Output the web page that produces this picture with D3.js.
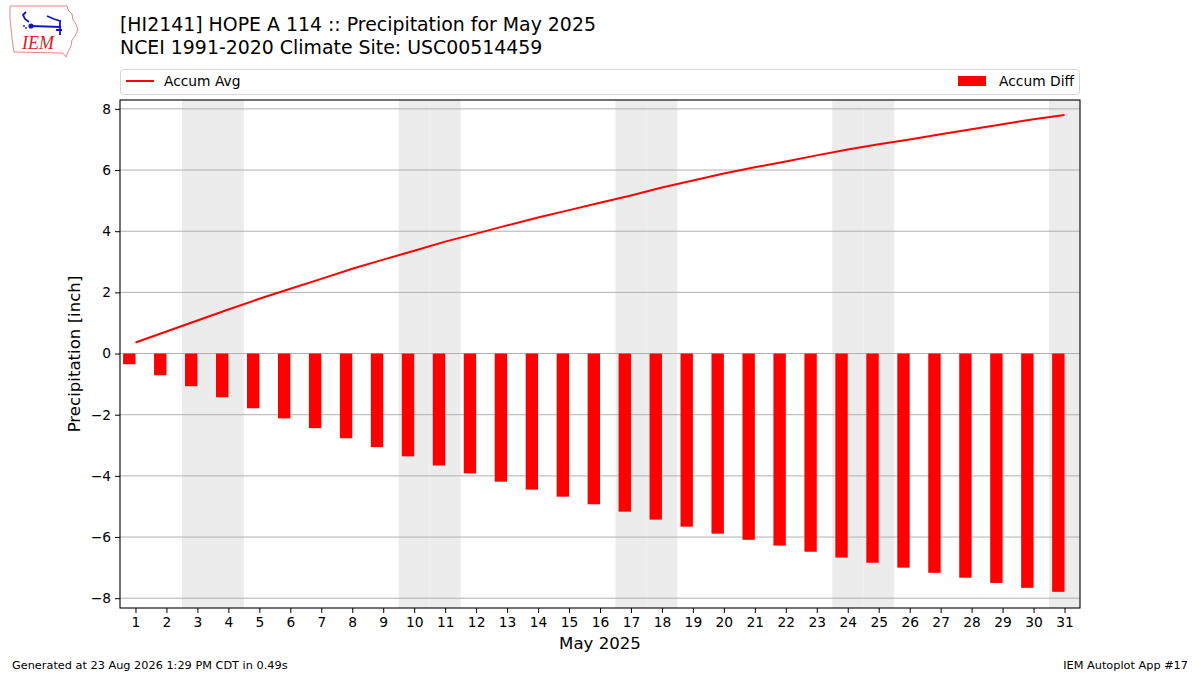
<!DOCTYPE html>
<html>
<head>
<meta charset="utf-8">
<script src="https://cdn.jsdelivr.net/npm/d3@7"></script>
<style>
    body { margin: 0; background: #fff; }
    svg { font-family: 'DejaVu Sans', sans-serif; }
</style>
</head>
<body>
<div id="chart"></div>
<script>
// days of May 2025
const days = d3.range(1, 32);
// accumulated climatology (inch)
const accumAvg = [0.36, 0.72, 1.08, 1.44, 1.79, 2.12, 2.44, 2.77, 3.07, 3.36,
    3.66, 3.92, 4.19, 4.45, 4.69, 4.93, 5.17, 5.43, 5.66, 5.89,
    6.09, 6.28, 6.48, 6.67, 6.84, 7.00, 7.17, 7.33, 7.50, 7.66, 7.80];
// accumulated departure (inch)
const accumDiff = [-0.35, -0.71, -1.07, -1.43, -1.79, -2.12, -2.44, -2.77, -3.06, -3.36,
    -3.66, -3.92, -4.19, -4.45, -4.68, -4.93, -5.17, -5.43, -5.66, -5.89,
    -6.09, -6.28, -6.48, -6.67, -6.84, -7.00, -7.17, -7.33, -7.50, -7.66, -7.79];
// weekend days get a grey band
const weekendDays = [3, 4, 10, 11, 17, 18, 24, 25, 31];
const yTicks = [-8, -6, -4, -2, 0, 2, 4, 6, 8];

const width = 1200, height = 675;
const plot = { left: 120, right: 1080, top: 100, bottom: 608 };

const svg = d3.select('#chart').append('svg')
    .attr('width', width)
    .attr('height', height);

const x = d3.scaleLinear().domain([0.5, 31.5]).range([plot.left, plot.right]);
const y = d3.scaleLinear().domain([-8.32, 8.29]).range([plot.bottom, plot.top]);

// clip to the axes box
svg.append('clipPath').attr('id', 'clip')
    .append('rect')
    .attr('x', plot.left).attr('y', plot.top)
    .attr('width', plot.right - plot.left).attr('height', plot.bottom - plot.top);

const body = svg.append('g').attr('clip-path', 'url(#clip)');

// weekend shading
body.selectAll('rect.weekend')
    .data(weekendDays)
    .enter().append('rect')
        .attr('class', 'weekend')
        .attr('x', d => x(d - 0.5))
        .attr('width', d => x(d + 0.5) - x(d - 0.5))
        .attr('y', plot.top)
        .attr('height', plot.bottom - plot.top)
        .attr('fill', '#ececec');

// horizontal grid
body.selectAll('line.grid')
    .data(yTicks)
    .enter().append('line')
        .attr('class', 'grid')
        .attr('x1', plot.left).attr('x2', plot.right)
        .attr('y1', d => y(d)).attr('y2', d => y(d))
        .attr('stroke', '#b0b0b0')
        .attr('stroke-width', 1);

// bars sit just left of their tick (edge aligned, negative width)
body.selectAll('rect.bar')
    .data(days)
    .enter().append('rect')
        .attr('class', 'bar')
        .attr('x', d => x(d - 0.4))
        .attr('width', d => x(d) - x(d - 0.4))
        .attr('y', (d, i) => y(Math.max(0, accumDiff[i])))
        .attr('height', (d, i) => Math.abs(y(accumDiff[i]) - y(0)))
        .attr('fill', '#ff0000');

const line = d3.line()
    .x(d => x(d))
    .y((d, i) => y(accumAvg[i]));

body.append('path')
    .datum(days)
    .attr('d', line)
    .attr('fill', 'none')
    .attr('stroke', '#ff0000')
    .attr('stroke-width', 2);

// axes
const xAxis = svg.append('g')
    .attr('transform', `translate(0, ${plot.bottom})`)
    .call(d3.axisBottom(x).tickValues(days).tickFormat(d3.format('d')).tickSizeOuter(0).tickSize(5).tickPadding(4));

const yAxis = svg.append('g')
    .attr('transform', `translate(${plot.left}, 0)`)
    .call(d3.axisLeft(y).tickValues(yTicks).tickFormat(d => d < 0 ? '\u2212' + Math.abs(d) : d).tickSizeOuter(0).tickSize(5).tickPadding(4));

[xAxis, yAxis].forEach(a => {
    a.select('.domain').remove();
    a.selectAll('text').attr('font-size', 13.8).attr('fill', '#000').attr('font-family', 'DejaVu Sans');
    a.selectAll('line').attr('stroke', '#000');
});

// frame
svg.append('rect')
    .attr('x', plot.left).attr('y', plot.top)
    .attr('width', plot.right - plot.left).attr('height', plot.bottom - plot.top)
    .attr('fill', 'none').attr('stroke', '#000').attr('stroke-width', 1.1);

svg.append('text')
    .attr('x', (plot.left + plot.right) / 2).attr('y', 649)
    .attr('text-anchor', 'middle').attr('font-size', 16.6)
    .text('May 2025');

svg.append('text')
    .attr('transform', `translate(80, ${(plot.top + plot.bottom) / 2}) rotate(-90)`)
    .attr('text-anchor', 'middle').attr('font-size', 16.6)
    .text('Precipitation [inch]');

// titles
const title = svg.append('text').attr('x', 120).attr('font-size', 18.9);
title.append('tspan').attr('x', 120).attr('y', 31).text('[HI2141] HOPE A 114 :: Precipitation for May 2025');
title.append('tspan').attr('x', 120).attr('y', 54).text('NCEI 1991-2020 Climate Site: USC00514459');

// legend
const legend = svg.append('g');
legend.append('rect')
    .attr('x', 120.5).attr('y', 69.5).attr('width', 959).attr('height', 25)
    .attr('rx', 3)
    .attr('fill', '#fff').attr('stroke', '#d6d6d6');
legend.append('line')
    .attr('x1', 126).attr('x2', 154).attr('y1', 81).attr('y2', 81)
    .attr('stroke', '#ff0000').attr('stroke-width', 2);
legend.append('text')
    .attr('x', 164).attr('y', 86).attr('font-size', 13.8).text('Accum Avg');
legend.append('rect')
    .attr('x', 958).attr('y', 76).attr('width', 28).attr('height', 10)
    .attr('fill', '#ff0000');
legend.append('text')
    .attr('x', 1074).attr('y', 86).attr('text-anchor', 'end').attr('font-size', 13.8).text('Accum Diff');

// footer
svg.append('text')
    .attr('x', 12).attr('y', 669).attr('font-size', 11.3)
    .text('Generated at 23 Aug 2026 1:29 PM CDT in 0.49s');
svg.append('text')
    .attr('x', 1188).attr('y', 669).attr('text-anchor', 'end').attr('font-size', 11.3)
    .text('IEM Autoplot App #17');

// rough IEM logo: state outline, station glyph, lettering
const logo = svg.append('g');
logo.append('path')
    .attr('d', 'M10,6 L67,6 L68,10 L72,14 L73,20 L76,24 L78,30 L75,36 L72,40 L71,46 L68,52 L66,57 L63,53 L14,52 L13,46 L12,38 L11,28 L10,18 Z')
    .attr('fill', '#fff').attr('stroke', '#e08888').attr('stroke-width', 1);
logo.append('path')
    .attr('d', 'M31,26 L61,27 M26,12 L23,15 L25,19 L29,22 M47,16 L54,19 L60,21 M60,20 L60,35 M56,30 L62,30')
    .attr('fill', 'none').attr('stroke', '#1414c8').attr('stroke-width', 1.8);
logo.append('circle').attr('cx', 31).attr('cy', 26).attr('r', 2.6).attr('fill', '#1414c8');
logo.append('circle').attr('cx', 24).attr('cy', 26).attr('r', 0.9).attr('fill', '#1414c8');
logo.append('circle').attr('cx', 26).attr('cy', 28).attr('r', 0.9).attr('fill', '#1414c8');
logo.append('text')
    .attr('x', 22).attr('y', 49)
    .attr('font-family', 'Liberation Serif, serif').attr('font-style', 'italic')
    .attr('font-size', 18).attr('fill', '#d82020')
    .text('IEM');
</script>
</body>
</html>
